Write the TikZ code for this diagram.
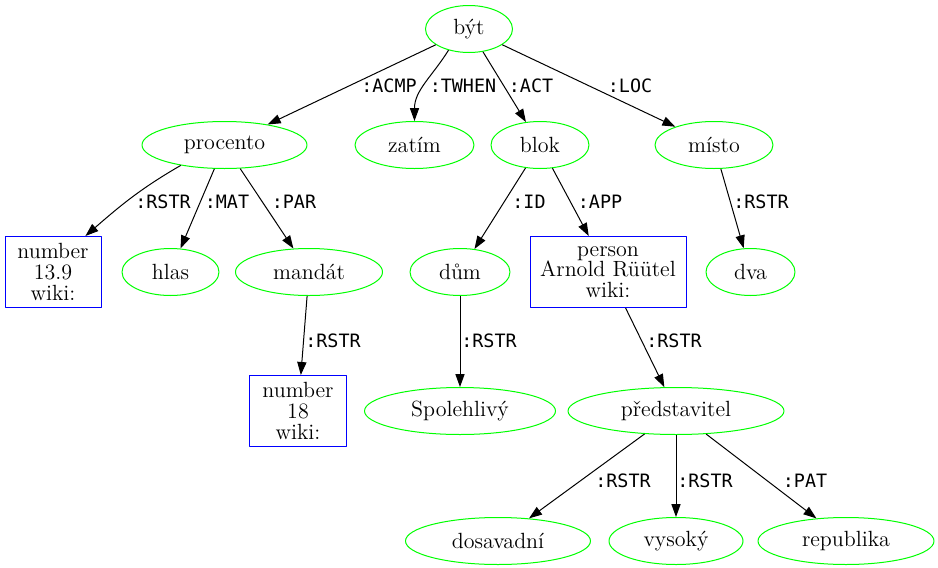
\documentclass[tikz,border=0pt]{standalone}
\usepackage{fontspec}
\newfontfamily\relfont{DejaVu Sans Mono}
\usetikzlibrary{shapes.geometric,arrows.meta}
\begin{document}
\begin{tikzpicture}[>={Triangle[length=6.5pt,width=4.6pt]},line join=round,x=0.5pt,y=-0.5pt,
	concept/.style={ellipse,draw=green,line width=0.5pt,inner sep=0pt,minimum height=23.5pt,font=\fontsize{11}{13}\selectfont},
	entity/.style={rectangle,draw=blue,line width=0.5pt,inner sep=0pt,minimum height=35.5pt,align=center,font=\fontsize{11}{10.3}\selectfont},
	rel/.style={inner sep=0pt,font=\relfont\fontsize{9.2}{11}\selectfont},
	edge/.style={->,line width=0.5pt}]
	\useasboundingbox (0,0) rectangle (938,568);
	\node[concept,minimum width=43.5pt] (byt) at (469,29) {být};
	\node[concept,minimum width=82.5pt] (procento) at (224.5,145) {procento};
	\node[concept,minimum width=59.5pt] (zatim) at (414.5,145) {zatím};
	\node[concept,minimum width=49pt] (blok) at (540,145) {blok};
	\node[concept,minimum width=59pt] (misto) at (714,145) {místo};
	\node[entity,minimum width=48pt] (num139) at (53,272) {number\\13.9\\wiki:};
	\node[concept,minimum width=48.5pt] (hlas) at (170.5,272) {hlas};
	\node[concept,minimum width=73.5pt] (mandat) at (309,272) {mandát};
	\node[concept,minimum width=50pt] (dum) at (460,272) {dům};
	\node[entity,minimum width=78pt] (arnold) at (608,272) {person\\Arnold Rüütel\\wiki:};
	\node[concept,minimum width=44.5pt] (dva) at (750.5,272) {dva};
	\node[entity,minimum width=48.5pt] (num18) at (298,411) {number\\18\\wiki:};
	\node[concept,minimum width=95.5pt] (spolehlivy) at (460,411) {Spolehlivý};
	\node[concept,minimum width=108pt] (predstavitel) at (676,411) {představitel};
	\node[concept,minimum width=92.5pt] (dosavadni) at (498,541) {dosavadní};
	\node[concept,minimum width=67pt] (vysoky) at (676,541) {vysoký};
	\node[concept,minimum width=88pt] (republika) at (846,541) {republika};
	\draw[edge] (byt) -- (procento);
	\draw[edge] (byt.226) to[out=238,in=90] (zatim.north);
	\draw[edge] (byt) -- (blok);
	\draw[edge] (byt) -- (misto);
	\draw[edge] (procento.205) to[out=210,in=41] (num139.48);
	\draw[edge] (procento) -- (hlas);
	\draw[edge] (procento) -- (mandat);
	\draw[edge] (mandat) -- (num18);
	\draw[edge] (blok) -- (dum);
	\draw[edge] (blok) -- (arnold);
	\draw[edge] (misto) -- (dva);
	\draw[edge] (dum) -- (spolehlivy);
	\draw[edge] (arnold) -- (predstavitel);
	\draw[edge] (predstavitel) -- (dosavadni);
	\draw[edge] (predstavitel) -- (vysoky);
	\draw[edge] (predstavitel) -- (republika);
	\node[rel] (lacmp) at (389,86) {:ACMP};
	\node[rel] (ltwhen) at (463,86) {:TWHEN};
	\node[rel] (lact) at (531,86) {:ACT};
	\node[rel] (lloc) at (630,86) {:LOC};
	\node[rel] (lrstra) at (163,202) {:RSTR};
	\node[rel] (lmat) at (227,202) {:MAT};
	\node[rel] (lpar) at (294,202) {:PAR};
	\node[rel] (lid) at (529,202) {:ID};
	\node[rel] (lapp) at (600,202) {:APP};
	\node[rel] (lrstrb) at (761,202) {:RSTR};
	\node[rel] (lrstrc) at (333,341) {:RSTR};
	\node[rel] (lrstrd) at (489,341) {:RSTR};
	\node[rel] (lrstre) at (674,341) {:RSTR};
	\node[rel] (lrstrf) at (623,481) {:RSTR};
	\node[rel] (lrstrg) at (705,481) {:RSTR};
	\node[rel] (lpat) at (805,481) {:PAT};
\end{tikzpicture}
\end{document}
